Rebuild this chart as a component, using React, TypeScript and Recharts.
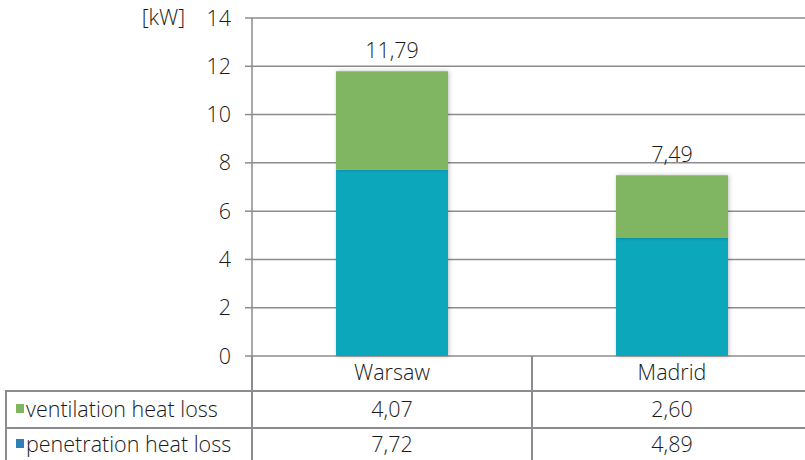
import { Bar, BarChart, CartesianGrid, LabelList, XAxis, YAxis } from "recharts";

const categories = ["Warsaw", "Madrid"];
const ventilation = [4.07, 2.6];
const penetration = [7.72, 4.89];
const yTicks = [0, 2, 4, 6, 8, 10, 12, 14];

const data = categories.map((city, i) => ({
  city,
  penetration: penetration[i],
  ventilation: ventilation[i],
  total: penetration[i] + ventilation[i],
}));

const fmt = (v: number) => v.toFixed(2).replace(".", ",");

const GRID = "#8c8c90";
const TEXT = "#1a1a1a";
const FONT = "'Open Sans', 'Noto Sans', sans-serif";
const FS = 21.5;
const FW = 350;

const TotalLabel = (props: any) => {
  const { x, y, width, index } = props;
  return (
    <text
      x={x + width / 2}
      y={y - 13}
      textAnchor="middle"
      fontSize={FS}
      fontWeight={FW}
      fill={TEXT}
      fontFamily={FONT}
    >
      {fmt(data[index].total)}
    </text>
  );
};

const line = (left: number, top: number, w: number, h: number) => (
  <div
    style={{
      position: "absolute",
      left,
      top,
      width: w,
      height: h,
      background: GRID,
    }}
  />
);

const cell = (left: number, top: number, w: number, h: number, content: any, align: string) => (
  <div
    style={{
      position: "absolute",
      left,
      top,
      width: w,
      height: h,
      display: "flex",
      alignItems: "center",
      justifyContent: align,
      fontSize: FS,
      fontWeight: FW,
      color: TEXT,
      fontFamily: FONT,
      whiteSpace: "nowrap",
    }}
  >
    {content}
  </div>
);

const swatch = (color: string) => (
  <span
    style={{
      display: "inline-block",
      width: 8,
      height: 9,
      background: color,
      marginRight: 2,
    }}
  />
);

export default function App() {
  return (
    <div
      style={{
        position: "absolute",
        left: 0,
        top: 0,
        width: 805,
        height: 460,
        overflow: "hidden",
        background: "#fff",
        fontFamily: FONT,
      }}
    >
      <BarChart
        width={812}
        height={460}
        data={data}
        margin={{ top: 18, right: 0, bottom: 74, left: 162 }}
        barSize={112}
      >
        <defs>
          <filter id="barShadow" x="-10%" y="-10%" width="120%" height="120%">
            <feDropShadow dx="1" dy="0" stdDeviation="2" floodColor="#000" floodOpacity="0.25" />
          </filter>
        </defs>
        <CartesianGrid vertical={false} stroke={GRID} strokeWidth={1.5} />
        <XAxis
          dataKey="city"
          height={30}
          axisLine={false}
          tickLine={false}
          tickMargin={3}
          tick={{ fontSize: FS, fontWeight: FW, fill: TEXT, fontFamily: FONT }}
        />
        <YAxis
          width={90}
          domain={[0, 14]}
          ticks={yTicks}
          interval={0}
          stroke={GRID}
          strokeWidth={1.5}
          tickSize={7}
          tickMargin={14}
          tick={{ fontSize: FS, fontWeight: FW, fill: TEXT, fontFamily: FONT }}
          label={({ viewBox }: any) => (
            <text
              x={viewBox.x + viewBox.width - 67}
              y={viewBox.y + 7}
              textAnchor="end"
              fontSize={FS}
              fontWeight={FW}
              fill={TEXT}
              fontFamily={FONT}
            >
              [kW]
            </text>
          )}
        />
        <Bar
          dataKey="penetration"
          stackId="a"
          fill="#0ea7bc"
          filter="url(#barShadow)"
          isAnimationActive={false}
        />
        <Bar
          dataKey="ventilation"
          stackId="a"
          fill="#80b662"
          filter="url(#barShadow)"
          isAnimationActive={false}
        >
          <LabelList dataKey="total" content={TotalLabel} />
        </Bar>
      </BarChart>

      {/* data table under the plot */}
      {line(251, 356, 1.5, 104)}
      {line(531, 356, 1.5, 104)}
      {line(6, 390, 799, 1.5)}
      {line(6, 427, 799, 1.5)}
      {line(5, 390, 1.5, 70)}

      {cell(16, 390, 236, 36, <>{swatch("#80b662")}ventilation heat loss</>, "flex-start")}
      {cell(16, 427, 236, 32, <>{swatch("#2f80b8")}penetration heat loss</>, "flex-start")}
      {cell(252, 390, 280, 36, fmt(ventilation[0]), "center")}
      {cell(532, 390, 280, 36, fmt(ventilation[1]), "center")}
      {cell(252, 427, 280, 32, fmt(penetration[0]), "center")}
      {cell(532, 427, 280, 32, fmt(penetration[1]), "center")}
    </div>
  );
}
